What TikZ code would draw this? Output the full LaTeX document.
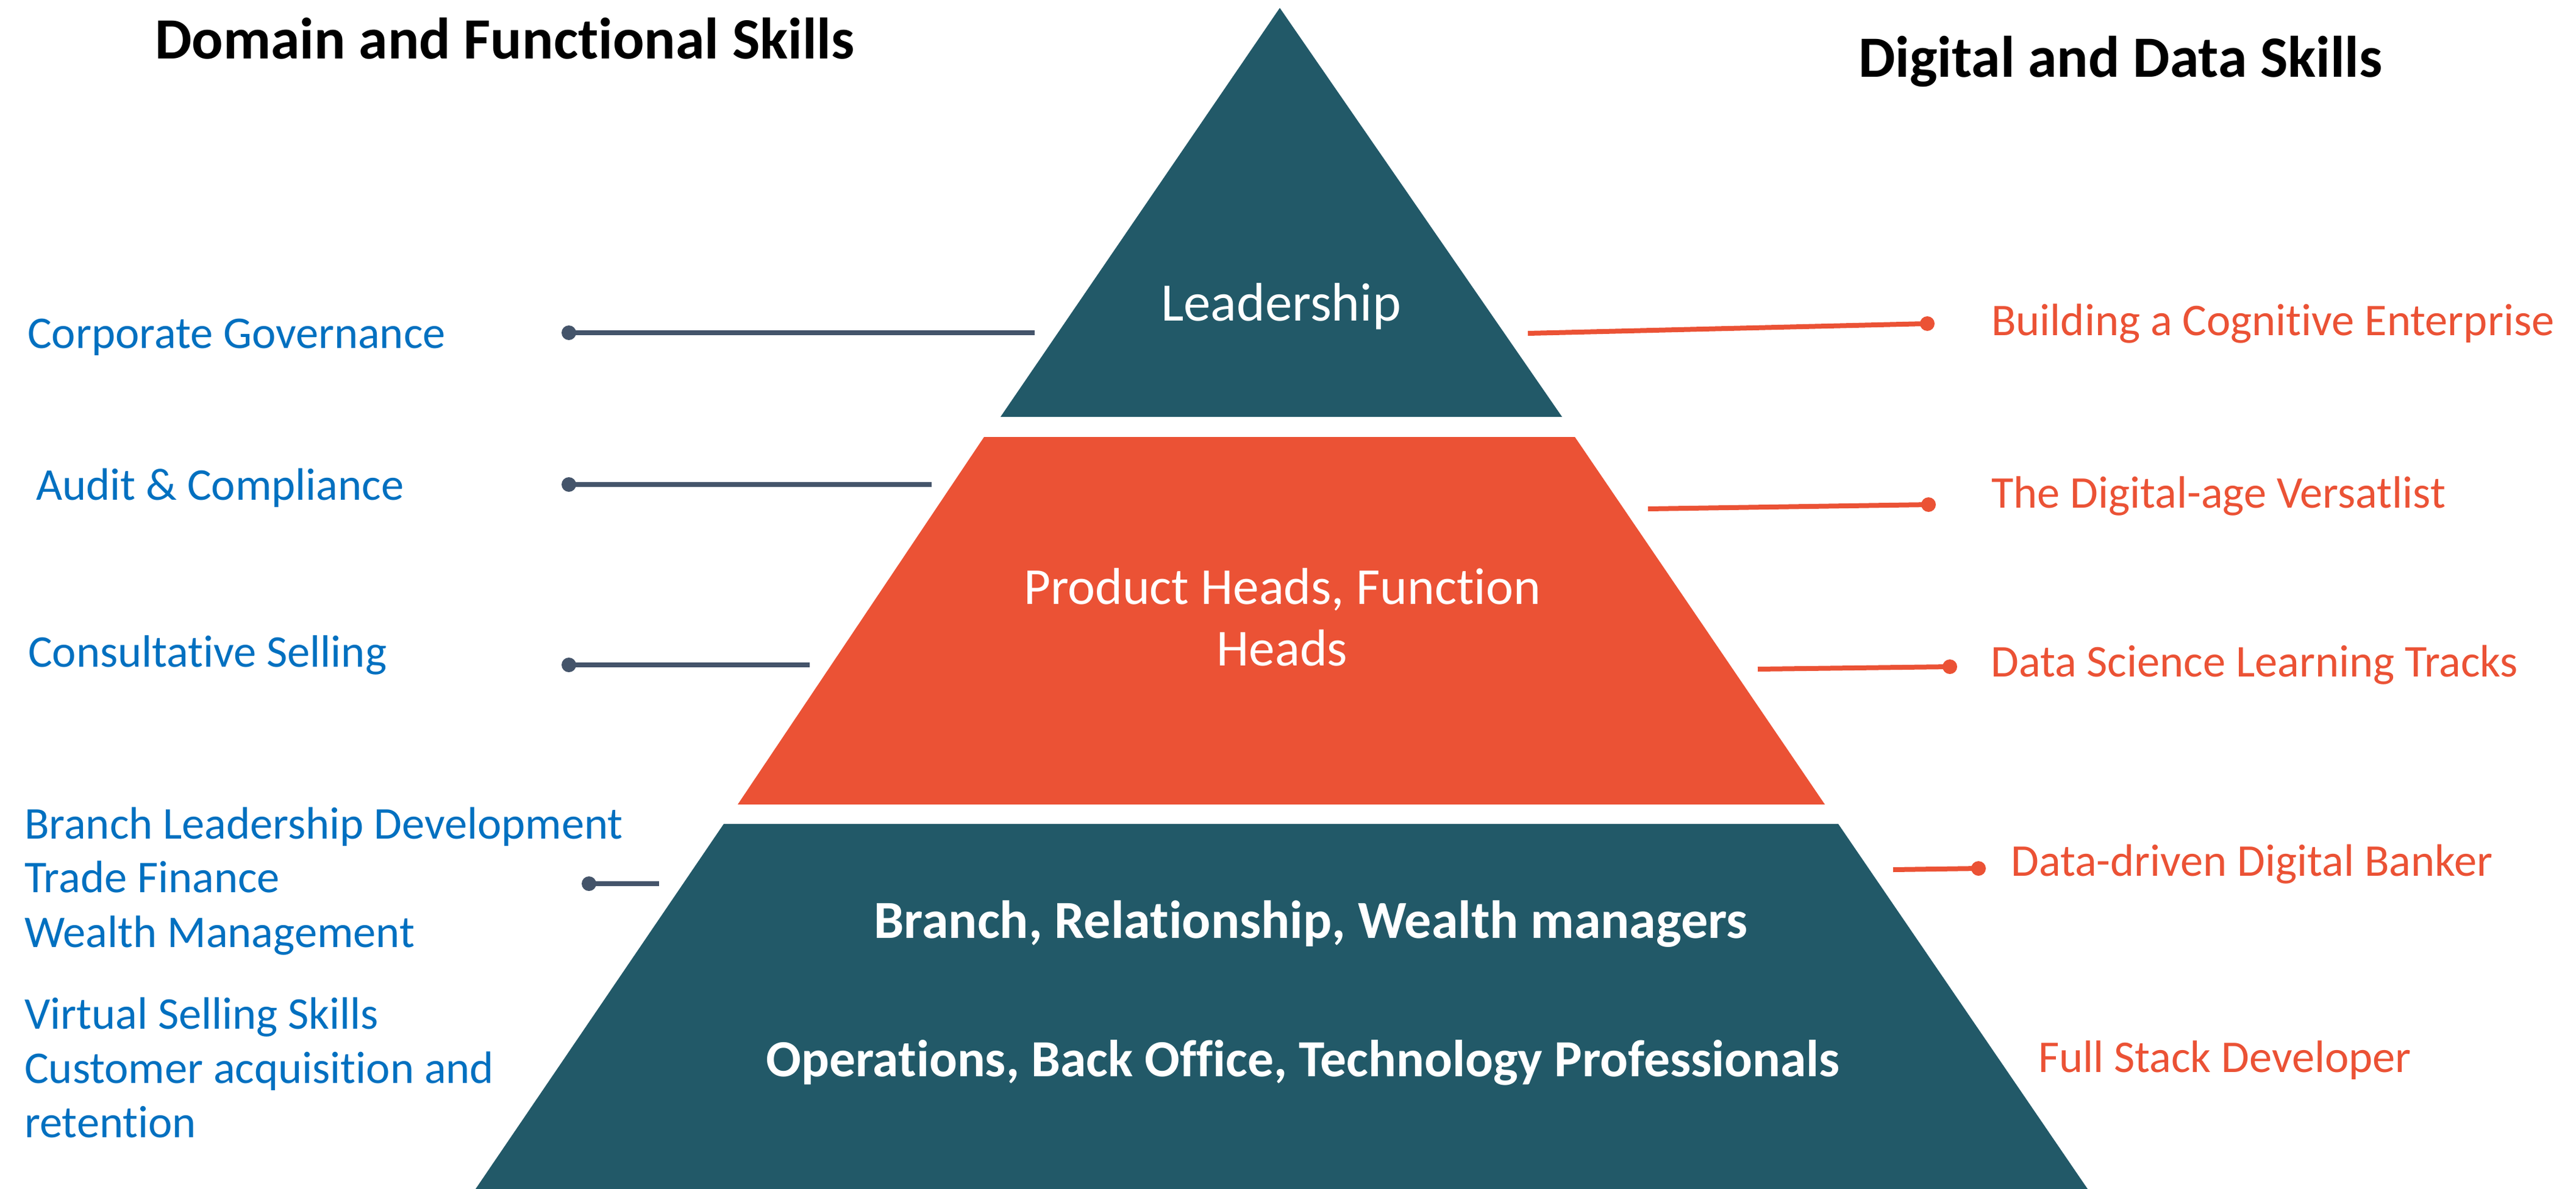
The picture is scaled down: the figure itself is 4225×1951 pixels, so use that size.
\documentclass[tikz,border=0pt]{standalone}
\usepackage{fontspec}
\setmainfont[Ligatures=NoCommon]{Carlito}
\definecolor{teal}{RGB}{34,89,104}
\definecolor{orng}{RGB}{235,82,53}
\definecolor{lblue}{RGB}{0,112,192}
\definecolor{gline}{RGB}{68,84,106}
\tikzset{
  title/.style={anchor=base west,inner sep=0,font=\fontsize{96}{115}\selectfont\bfseries,text=black},
  lleft/.style={anchor=base west,inner sep=0,font=\fontsize{74.5}{89}\selectfont,text=lblue},
  lright/.style={anchor=base west,inner sep=0,font=\fontsize{74.5}{89}\selectfont,text=orng},
  inner/.style={anchor=base,inner sep=0,font=\fontsize{85.2}{101}\selectfont,text=white},
  innerb/.style={anchor=base,inner sep=0,font=\fontsize{85.5}{100}\selectfont\bfseries,text=white},
  gcon/.style={draw=gline,line width=8},
  ocon/.style={draw=orng,line width=8},
  gdot/.style={circle,fill=gline,minimum size=24,inner sep=0},
  odot/.style={circle,fill=orng,minimum size=24,inner sep=0},
}
\begin{document}
\begin{tikzpicture}[x=1pt,y=-1pt]
\useasboundingbox (0,0) rectangle (4225,1951);
% pyramid levels
\fill[teal] (2099,13) -- (2562,684) -- (1641,684) -- cycle;
\fill[orng] (1614,717) -- (2583,717) -- (2993,1320) -- (1210,1320) -- cycle;
\fill[teal] (1187,1352) -- (3015,1352) -- (3424,1951) -- (780,1951) -- cycle;
% titles
\node[title] (t1) at (254,96) {Domain and Functional Skills};
\node[title] (t2) at (3048,126) {Digital and Data Skills};
% inner texts
\node[inner,font=\fontsize{89}{101}\selectfont] (lead) at (2101,526) {Leadership};
\node[inner] (prod1) at (2103,991) {Product Heads, Function};
\node[inner] (prod2) at (2103,1092) {Heads};
\node[innerb,font=\fontsize{88}{100}\selectfont\bfseries] (bran) at (2150,1539) {Branch, Relationship, Wealth managers};
\node[innerb] (oper) at (2137,1766) {Operations, Back Office, Technology Professionals};
% left labels
\node[lleft] (cg) at (45,571) {Corporate Governance};
\node[lleft] (ac) at (59,820) {Audit \& Compliance};
\node[lleft] (cs) at (46,1094) {Consultative Selling};
\node[lleft] (bld) at (40,1376) {Branch Leadership Development};
\node[lleft] (tf) at (40,1464) {Trade Finance};
\node[lleft] (wm) at (40,1554) {Wealth Management};
\node[lleft] (vs) at (40,1688) {Virtual Selling Skills};
\node[lleft] (ca) at (40,1777) {Customer acquisition and};
\node[lleft] (ret) at (40,1866) {retention};
% right labels
\node[lright] (bce) at (3266,550) {Building a Cognitive Enterprise};
\node[lright] (dav) at (3266,833) {The Digital-age Versatlist};
\node[lright] (dsl) at (3265,1110) {Data Science Learning Tracks};
\node[lright] (ddb) at (3298,1437) {Data-driven Digital Banker};
\node[lright] (fsd) at (3343,1759) {Full Stack Developer};
% left connectors
\node[gdot] (d1) at (933,546) {};
\coordinate (e1) at (1697,546);
\node[gdot] (d2) at (933,795) {};
\coordinate (e2) at (1528,795);
\node[gdot] (d3) at (933,1091) {};
\coordinate (e3) at (1328,1091);
\node[gdot] (d4) at (966,1450) {};
\coordinate (e4) at (1081,1450);
\draw[gcon] (d1.center) -- (e1);
\draw[gcon] (d2.center) -- (e2);
\draw[gcon] (d3.center) -- (e3);
\draw[gcon] (d4.center) -- (e4);
% right connectors
\node[odot] (r1) at (3161,531) {};
\coordinate (s1) at (2506,547);
\node[odot] (r2) at (3163,828) {};
\coordinate (s2) at (2703,835);
\node[odot] (r3) at (3198,1094) {};
\coordinate (s3) at (2883,1098);
\node[odot] (r4) at (3245,1425) {};
\coordinate (s4) at (3105,1427);
\draw[ocon] (s1) -- (r1.center);
\draw[ocon] (s2) -- (r2.center);
\draw[ocon] (s3) -- (r3.center);
\draw[ocon] (s4) -- (r4.center);
\end{tikzpicture}
\end{document}
